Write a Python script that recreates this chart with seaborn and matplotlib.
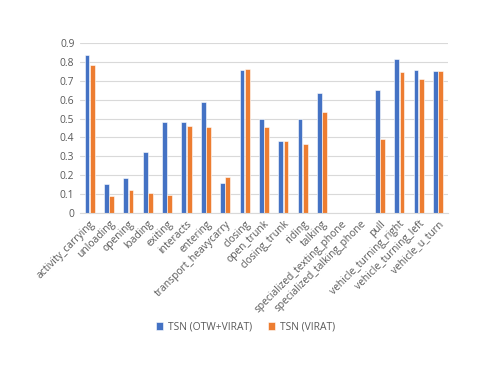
import pandas as pd
import seaborn as sns
import matplotlib.pyplot as plt

actions = ["activity_carrying", "unloading", "opening", "loading", "exiting", "interacts",
           "entering", "transport_heavycarry", "closing", "open_trunk", "closing_trunk",
           "riding", "talking", "specialized_texting_phone", "specialized_talking_phone",
           "pull", "vehicle_turning_right", "vehicle_turning_left", "vehicle_u_turn"]
otw_virat = [0.836, 0.154, 0.187, 0.324, 0.483, 0.483, 0.589, 0.159, 0.755, 0.499,
             0.38, 0.499, 0.635, 0.0, 0.0, 0.651, 0.817, 0.758, 0.75]
virat = [0.785, 0.092, 0.12, 0.106, 0.097, 0.461, 0.454, 0.193, 0.764, 0.454,
         0.38, 0.364, 0.536, 0.0, 0.0, 0.391, 0.744, 0.707, 0.75]
series = ["TSN (OTW+VIRAT)", "TSN (VIRAT)"]

df = pd.DataFrame({
    "action": actions * 2,
    "score": otw_virat + virat,
    "model": [series[0]] * len(actions) + [series[1]] * len(actions),
})

sns.set_style("white")
plt.rcParams["font.family"] = ["Open Sans", "DejaVu Sans"]
text_color = "#595959"

fig = plt.figure(figsize=(4.91, 3.8), dpi=100)
ax = fig.add_axes([0.163, 0.4395, 0.749, 0.4473])

sns.barplot(data=df, x="action", y="score", hue="model", order=actions,
            palette=["#4472C4", "#ED7D31"], saturation=1, width=0.55, gap=0.1,
            edgecolor="white", linewidth=0.4, ax=ax)

ax.set_ylim(0, 0.9)
ax.set_yticks([i / 10 for i in range(10)])
ax.set_yticklabels(["0"] + [f"{i / 10:.1f}" for i in range(1, 10)])
ax.yaxis.grid(True, color="#D9D9D9", linewidth=0.8)
ax.set_axisbelow(True)
for s in ["top", "right", "left"]:
    ax.spines[s].set_visible(False)
ax.spines["bottom"].set_color("#D9D9D9")
ax.set_xlim(-0.5, len(actions) - 0.5)
ax.set_xlabel("")
ax.set_ylabel("")
ax.tick_params(axis="both", length=0, colors=text_color, labelsize=7.4, pad=4)
plt.setp(ax.get_xticklabels(), rotation=45, ha="right", rotation_mode="anchor")

ax.legend(loc="center", ncol=2, frameon=False, fontsize=7.4,
          handlelength=0.7, handleheight=0.7, handletextpad=0.5,
          columnspacing=1.5, labelcolor=text_color)
leg = ax.get_legend()
leg.set_bbox_to_anchor((0.5, 0.139), transform=fig.transFigure)

fig.savefig("out.png", dpi=100)
